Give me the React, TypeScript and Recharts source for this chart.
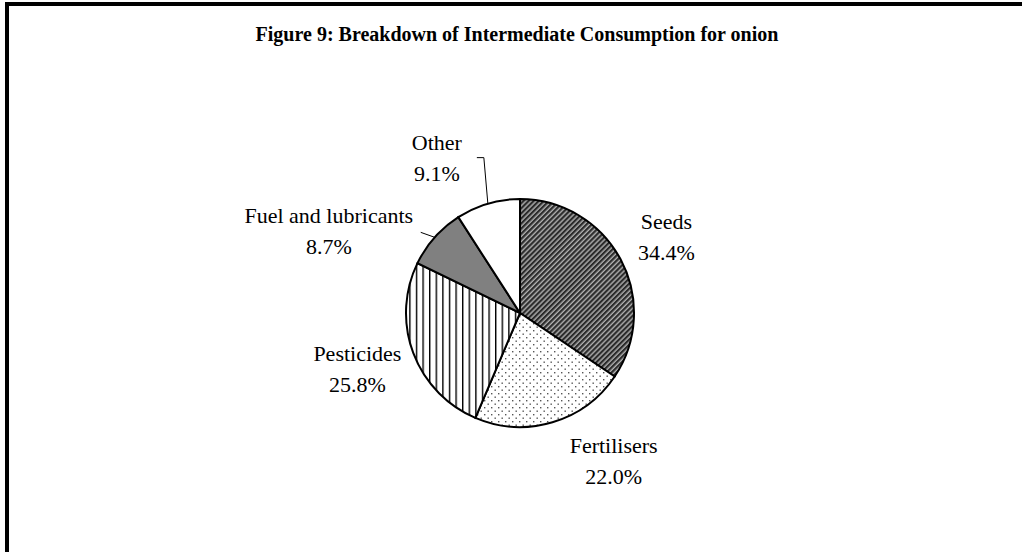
import { PieChart, Pie, Cell } from 'recharts';

const categories = ['Seeds', 'Fertilisers', 'Pesticides', 'Fuel and lubricants', 'Other'];
const shares = [34.4, 22.0, 25.8, 8.7, 9.1];
const shareLabels = ['34.4%', '22.0%', '25.8%', '8.7%', '9.1%'];
const chartTitle = 'Figure 9: Breakdown of Intermediate Consumption for onion';

const fills = ['url(#seedsHatch)', 'url(#fertDots)', 'url(#pestStripes)', '#808080', '#ffffff'];

// where each label block sits: distance from centre, angle shift (deg, clockwise) from slice middle
const labelPlace = [
  { r: 165, shift: 0.6 },
  { r: 175, shift: -15.8 },
  { r: 172, shift: 1.5 },
  { r: 208, shift: -18.4 },
  { r: 176, shift: -11.8 },
];
// leader lines, offsets from the point on the slice rim
const leaders: Record<number, [number, number][]> = {
  3: [[-14, -5]],
  4: [[-4, -46], [-11, -46]],
};

const data = categories.map((name, i) => ({ name, value: shares[i], pct: shareLabels[i] }));

const FONT = '"Liberation Serif", "Times New Roman", serif';

function renderLabel(props: any) {
  const { cx, cy, midAngle, outerRadius, index } = props;
  const place = labelPlace[index];
  const t = ((90 - midAngle + place.shift) * Math.PI) / 180;
  const x = cx + place.r * Math.sin(t);
  const y = cy - place.r * Math.cos(t);
  const m = ((90 - midAngle) * Math.PI) / 180;
  const ex = cx + outerRadius * Math.sin(m);
  const ey = cy - outerRadius * Math.cos(m);
  const lead = leaders[index];
  const pts = lead
    ? [[ex, ey], ...lead.map(([dx, dy]) => [ex + dx, ey + dy])].map((p) => p.join(',')).join(' ')
    : '';
  return (
    <g key={`lbl-${index}`}>
      {lead && <polyline points={pts} fill="none" stroke="#000" strokeWidth={1} />}
      <text x={x} y={y - 15.5} textAnchor="middle" dominantBaseline="central" fontFamily={FONT} fontSize={22} fill="#000">
        {data[index].name}
      </text>
      <text x={x} y={y + 15.5} textAnchor="middle" dominantBaseline="central" fontFamily={FONT} fontSize={22} fill="#000">
        {data[index].pct}
      </text>
    </g>
  );
}

export default function App() {
  return (
    <div style={{ position: 'absolute', left: 0, top: 0, width: 1022, height: 552, background: '#fff', overflow: 'hidden' }}>
      <div style={{ position: 'absolute', left: 5, top: 2, width: 1017, height: 4, background: '#000' }} />
      <div style={{ position: 'absolute', left: 5, top: 2, width: 4, height: 550, background: '#000' }} />
      <div style={{ position: 'absolute', left: 0, top: 0 }}>
        <PieChart width={1022} height={552} margin={{ top: 0, right: 0, bottom: 0, left: 0 }}>
          <defs>
            <pattern id="seedsHatch" width="3.6" height="4" patternUnits="userSpaceOnUse" patternTransform="rotate(45)">
              <rect width="3.6" height="4" fill="#b0b0b0" />
              <rect width="2.2" height="4" fill="#2b2b2b" />
            </pattern>
            <pattern id="fertDots" width="7" height="7" patternUnits="userSpaceOnUse">
              <rect width="7" height="7" fill="#ffffff" />
              <rect x="1" y="1" width="1.4" height="1.4" fill="#555555" />
              <rect x="4.5" y="4.5" width="1.4" height="1.4" fill="#555555" />
            </pattern>
            <pattern id="pestStripes" width="6.6" height="10" patternUnits="userSpaceOnUse">
              <rect width="6.6" height="10" fill="#ffffff" />
              <rect width="1.4" height="10" fill="#000000" />
            </pattern>
          </defs>
          <text x={517} y={34} textAnchor="middle" dominantBaseline="central" fontFamily={FONT} fontSize={20} fontWeight="bold" fill="#000">
            {chartTitle}
          </text>
          <Pie
            data={data}
            dataKey="value"
            nameKey="name"
            cx={520}
            cy={313}
            outerRadius={114}
            startAngle={90}
            endAngle={-270}
            stroke="#000"
            strokeWidth={2}
            label={renderLabel}
            labelLine={false}
            isAnimationActive={false}
          >
            {data.map((d, i) => (
              <Cell key={d.name} fill={fills[i]} />
            ))}
          </Pie>
        </PieChart>
      </div>
    </div>
  );
}
